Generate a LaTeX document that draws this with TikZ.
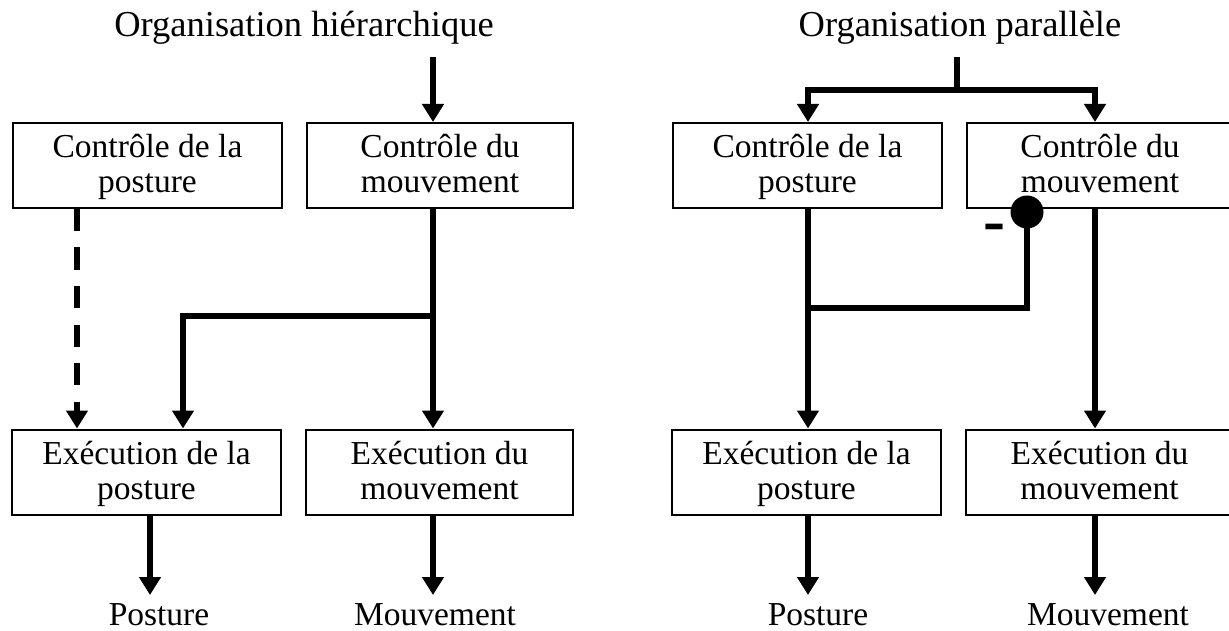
\documentclass[tikz,border=0pt]{standalone}
\usepackage{fontspec}
\setmainfont{Liberation Serif}
\usetikzlibrary{arrows.meta}
\newcommand\upline{\rule{0pt}{28pt}}
\newcommand\downline{\rule[-8pt]{0pt}{8pt}}
\tikzset{
 box/.style={draw, line width=2pt, minimum height=85pt, inner sep=0pt, align=center, font=\fontsize{33.5}{35}\selectfont},
 flow/.style={line width=6pt, line join=miter, -{Triangle[width=21pt,length=18pt]}},
 link/.style={line width=6pt, line join=miter},
 titletext/.style={font=\fontsize{36.5}{40}\selectfont, anchor=base},
 labeltext/.style={font=\fontsize{33.5}{35}\selectfont, anchor=base},
}
\begin{document}
\begin{tikzpicture}[x=1pt,y=-1pt]
\useasboundingbox (0,0) rectangle (1229,631);
% ---------- left panel ----------
\node[titletext] (t1) at (304,37) {Organisation hiérarchique};
\node[box, minimum width=269pt] (cp1) at (147.5,165.5) {\upline Contrôle de la\\posture\downline};
\node[box, minimum width=266pt] (cm1) at (440,165.5) {\upline Contrôle du\\mouvement\downline};
\node[box, minimum width=269pt] (ep1) at (146.5,472) {\upline Exécution de la\\posture\downline};
\node[box, minimum width=267pt] (em1) at (439.5,472) {\upline Exécution du\\mouvement\downline};
\node[labeltext] (p1) at (159,625) {Posture};
\node[labeltext] (mv1) at (435,625) {Mouvement};

\coordinate (s1) at (433,57);
\coordinate (d1) at (77,0);
\coordinate (b1) at (183,316);
\coordinate (o1) at (150,595);
\coordinate (o2) at (433,595);
\draw[flow] (s1) -- (s1 |- cm1.north);
\draw[flow, dash pattern=on 22pt off 16.5pt] (d1 |- cp1.south) -- (d1 |- ep1.north);
\draw[flow] (s1 |- cm1.south) -- (s1 |- em1.north);
\draw[flow] (s1 |- b1) -- (b1) -- (b1 |- ep1.north);
\draw[flow] (o1 |- ep1.south) -- (o1);
\draw[flow] (o2 |- em1.south) -- (o2);

% ---------- right panel ----------
\node[titletext] (t2) at (960,37) {Organisation parallèle};
\node[box, minimum width=269pt] (cp2) at (807.5,165.5) {\upline Contrôle de la\\posture\downline};
\node[box, minimum width=266pt] (cm2) at (1100,165.5) {\upline Contrôle du\\mouvement\downline};
\node[box, minimum width=269pt] (ep2) at (806.5,472) {\upline Exécution de la\\posture\downline};
\node[box, minimum width=267pt] (em2) at (1099.5,472) {\upline Exécution du\\mouvement\downline};
\node[labeltext] (p2) at (818,625) {Posture};
\node[labeltext] (mv2) at (1108,625) {Mouvement};

\coordinate (s2) at (957,57);
\coordinate (j2) at (957,90);
\coordinate (l2) at (808,90);
\coordinate (r2) at (1095,90);
\coordinate (k2) at (1027,308);
\coordinate (o3) at (808,595);
\coordinate (o4) at (1095,595);
\draw[link] (s2) -- (j2);
\draw[flow] (j2) -- (l2) -- (l2 |- cp2.north);
\draw[flow] (j2) -- (r2) -- (r2 |- cm2.north);
\draw[flow] (l2 |- cp2.south) -- (l2 |- ep2.north);
\draw[flow] (r2 |- cm2.south) -- (r2 |- em2.north);
\node[circle, fill, inner sep=0pt, minimum size=33pt] (dot) at (1027,212) {};
\draw[link] (dot.center) -- (k2) -- (k2 -| l2);
\node[font=\fontsize{66}{66}\selectfont\bfseries, anchor=base] (minus) at (994,243) {-};
\draw[flow] (o3 |- ep2.south) -- (o3);
\draw[flow] (o4 |- em2.south) -- (o4);
\end{tikzpicture}
\end{document}
